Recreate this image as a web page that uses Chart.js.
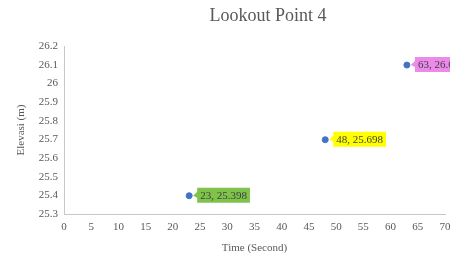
<!DOCTYPE html>
<html><head><meta charset="utf-8">
<script src="https://cdn.jsdelivr.net/npm/chart.js@4/dist/chart.umd.min.js"></script>
<style>html,body{margin:0;padding:0;background:#fff}#wrap{width:450px;height:261px}</style>
</head><body><div id="wrap"><canvas id="c" width="450" height="261"></canvas></div>
<script>
const timeSeconds = [23, 48, 63];
const elevation = [25.398, 25.698, 26.098];
const labelTexts = ["23, 25.398", "48, 25.698", "63, 26.098"];
const labelColors = ["#7fc34a", "#ffff00", "#ec8aec"];
const chartTitle = "Lookout Point 4";
const xTitle = "Time (Second)";
const yTitle = "Elevasi (m)";

const SERIF = "'Liberation Serif', 'DejaVu Serif', serif";

const titlePlugin = {
  id: 'customTitle',
  afterDraw(chart) {
    const ctx = chart.ctx;
    ctx.save();
    ctx.font = "18px " + SERIF;
    ctx.fillStyle = "#595959";
    ctx.textAlign = "center";
    ctx.textBaseline = "middle";
    ctx.fillText(chartTitle, 268, 16);
    ctx.restore();
  }
};

const labelPlugin = {
  id: 'calloutLabels',
  afterDatasetsDraw(chart) {
    const ctx = chart.ctx;
    const meta = chart.getDatasetMeta(0);
    ctx.save();
    ctx.font = "11px " + SERIF;
    meta.data.forEach((pt, i) => {
      const txt = labelTexts[i];
      const w = ctx.measureText(txt).width + 6;
      const h = 15;
      const x0 = pt.x + 8;
      const y0 = pt.y - 8;
      ctx.fillStyle = labelColors[i];
      ctx.beginPath();
      ctx.moveTo(pt.x + 4, pt.y);
      ctx.lineTo(x0, y0 + 4);
      ctx.lineTo(x0, y0);
      ctx.lineTo(x0 + w, y0);
      ctx.lineTo(x0 + w, y0 + h);
      ctx.lineTo(x0, y0 + h);
      ctx.lineTo(x0, y0 + 10);
      ctx.closePath();
      ctx.fill();
      ctx.fillStyle = "#404040";
      ctx.textAlign = "left";
      ctx.textBaseline = "middle";
      ctx.fillText(txt, x0 + 3, y0 + h / 2 + 0.5);
    });
    ctx.restore();
  }
};

new Chart(document.getElementById('c'), {
  type: 'scatter',
  data: {
    datasets: [{
      data: timeSeconds.map((t, i) => ({x: t, y: elevation[i]})),
      backgroundColor: '#4472c4',
      borderColor: '#4472c4',
      pointRadius: 3,
      pointHoverRadius: 3
    }]
  },
  options: {
    responsive: false,
    animation: false,
    devicePixelRatio: 1,
    layout: {padding: {top: 46, right: 5, left: 0, bottom: 0}},
    plugins: {legend: {display: false}, tooltip: {enabled: false}, title: {display: false}},
    scales: {
      x: {
        type: 'linear', min: 0, max: 70,
        ticks: {stepSize: 5, color: '#595959', font: {family: SERIF, size: 11}, padding: 7},
        grid: {display: false, drawTicks: false},
        border: {display: true, color: '#c8c8c8'},
        title: {display: true, text: xTitle, color: '#595959', font: {family: SERIF, size: 11}, padding: {top: 2, bottom: 6}},
        afterFit(s) { s.height = 47; s.paddingRight = 0; }
      },
      y: {
        min: 25.3, max: 26.2,
        ticks: {stepSize: 0.1, color: '#595959', font: {family: SERIF, size: 11}, padding: 6,
          callback: v => String(Math.round(v * 10) / 10)},
        grid: {display: false, drawTicks: false},
        border: {display: true, color: '#c8c8c8'},
        title: {display: true, text: yTitle, color: '#595959', font: {family: SERIF, size: 11}, padding: {top: 15, bottom: 4}},
        afterFit(s) { s.width = 64; }
      }
    }
  },
  plugins: [titlePlugin, labelPlugin]
});
</script>
</body></html>
